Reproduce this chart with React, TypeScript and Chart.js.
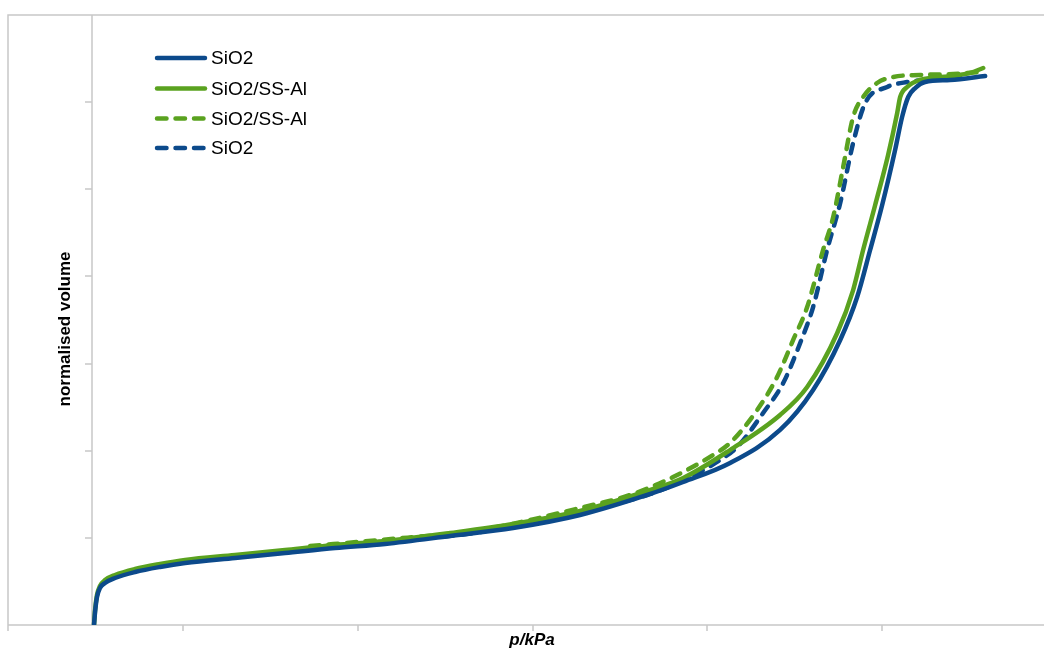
import React, { useEffect, useRef } from "react";
import { Chart, registerables } from "chart.js";

Chart.register(...registerables);

// x in axis units (tick every 1), y in axis units (tick every 1)
const sio2AdsX = [0.492, 0.498, 0.509, 0.526, 0.555, 0.612, 0.727, 0.870, 1.013, 1.299, 1.585, 1.871, 2.157, 2.529, 2.889, 3.272, 3.656, 3.862, 4.130, 4.416, 4.605, 4.760, 4.857, 4.931, 5.000, 5.074, 5.114, 5.149, 5.189, 5.246, 5.389, 5.589];
const sio2AdsY = [0, 0.149, 0.321, 0.425, 0.482, 0.539, 0.608, 0.666, 0.711, 0.769, 0.826, 0.884, 0.930, 1.021, 1.113, 1.262, 1.492, 1.641, 1.859, 2.238, 2.697, 3.271, 3.764, 4.303, 4.820, 5.451, 5.830, 6.059, 6.162, 6.231, 6.254, 6.300];

const alAdsX = [0.492, 0.498, 0.509, 0.526, 0.555, 0.612, 0.727, 0.870, 1.013, 1.299, 1.585, 1.871, 2.157, 2.529, 2.889, 3.272, 3.656, 3.862, 4.130, 4.416, 4.571, 4.743, 4.834, 4.891, 4.960, 5.034, 5.086, 5.103, 5.143, 5.217, 5.406, 5.503, 5.578];
const alAdsY = [0, 0.172, 0.344, 0.448, 0.516, 0.574, 0.643, 0.700, 0.746, 0.803, 0.861, 0.918, 0.964, 1.056, 1.159, 1.308, 1.538, 1.687, 2.008, 2.410, 2.731, 3.351, 3.844, 4.303, 4.820, 5.394, 5.876, 6.059, 6.174, 6.254, 6.300, 6.335, 6.392];

const alDesX = [1.728, 2.128, 2.700, 2.986, 3.272, 3.558, 3.804, 4.033, 4.130, 4.285, 4.399, 4.491, 4.571, 4.662, 4.720, 4.777, 4.834, 4.891, 4.971, 5.063, 5.217, 5.406, 5.561];
const alDesY = [0.907, 0.975, 1.090, 1.205, 1.343, 1.492, 1.698, 1.951, 2.089, 2.467, 2.846, 3.271, 3.649, 4.303, 4.682, 5.256, 5.830, 6.059, 6.220, 6.289, 6.312, 6.323, 6.346];

const sio2DesX = [1.756, 2.128, 2.700, 2.986, 3.272, 3.656, 3.844, 4.073, 4.171, 4.319, 4.434, 4.531, 4.605, 4.685, 4.760, 4.834, 4.903, 5.029, 5.143, 5.315, 5.446];
const sio2DesY = [0.884, 0.952, 1.067, 1.182, 1.297, 1.492, 1.641, 1.894, 2.043, 2.433, 2.777, 3.236, 3.649, 4.303, 4.843, 5.531, 5.990, 6.174, 6.231, 6.266, 6.277];

const seriesLabels = ["SiO2", "SiO2/SS-Al", "SiO2/SS-Al", "SiO2"];
const xTicks = [0, 1, 2, 3, 4, 5, 6];
const yTicks = [0, 1, 2, 3, 4, 5, 6, 7];
const xTitle = "p/kPa";
const yTitle = "normalised volume";
const Y_AXIS_AT = 0.48;

const BLUE = "#0c4a8b";
const GREEN = "#5aa21f";
const AXIS = "#c8c8c8";
const FONT = "'Liberation Sans', Arial, sans-serif";
const DASH = [9.5, 9];

const pts = (xs: number[], ys: number[]) => xs.map((x, i) => ({ x, y: ys[i] }));

const axesPlugin = {
  id: "axesPlugin",
  beforeDatasetsDraw(chart: any) {
    const ctx = chart.ctx;
    const xs = chart.scales.x;
    const ys = chart.scales.y;
    const x0 = Math.round(xs.getPixelForValue(0));
    const x1 = 1070;
    const yTop = Math.round(ys.getPixelForValue(7));
    const yBot = Math.round(ys.getPixelForValue(0));
    const yAx = Math.round(xs.getPixelForValue(Y_AXIS_AT));
    ctx.save();
    ctx.strokeStyle = AXIS;
    ctx.lineWidth = 1.5;
    ctx.beginPath();
    ctx.moveTo(x0, yBot);
    ctx.lineTo(x0, yTop);
    ctx.lineTo(x1, yTop);
    ctx.moveTo(x0, yBot);
    ctx.lineTo(x1, yBot);
    xTicks.forEach((t) => {
      const px = Math.round(xs.getPixelForValue(t));
      ctx.moveTo(px, yBot);
      ctx.lineTo(px, yBot + 6);
    });
    ctx.moveTo(yAx, yBot);
    ctx.lineTo(yAx, yTop);
    yTicks.forEach((t) => {
      if (t === 0) return;
      const py = Math.round(ys.getPixelForValue(t));
      ctx.moveTo(yAx - 7, py);
      ctx.lineTo(yAx, py);
    });
    ctx.stroke();
    ctx.restore();
  },
  afterDraw(chart: any) {
    const ctx = chart.ctx;
    ctx.save();
    ctx.fillStyle = "#000";
    ctx.textAlign = "center";
    ctx.textBaseline = "alphabetic";
    ctx.font = `italic bold 17px ${FONT}`;
    ctx.fillText(xTitle, 532, 645);
    ctx.save();
    ctx.translate(70, 329);
    ctx.rotate(-Math.PI / 2);
    ctx.font = `bold 17px ${FONT}`;
    ctx.fillText(yTitle, 0, 0);
    ctx.restore();
    const rows = [58, 88.5, 118.5, 148];
    chart.data.datasets.forEach((ds: any, i: number) => {
      const y = rows[i];
      ctx.beginPath();
      ctx.strokeStyle = ds.borderColor;
      ctx.lineWidth = 4.5;
      ctx.lineCap = "round";
      ctx.setLineDash(ds.borderDash || []);
      ctx.moveTo(157, y);
      ctx.lineTo(205, y);
      ctx.stroke();
      ctx.setLineDash([]);
      ctx.fillStyle = "#000";
      ctx.textAlign = "left";
      ctx.textBaseline = "middle";
      ctx.font = `19px ${FONT}`;
      ctx.fillText(ds.label, 211, y + 1);
    });
    ctx.restore();
  },
};

export default function App() {
  const ref = useRef<HTMLCanvasElement>(null);
  useEffect(() => {
    if (!ref.current) return;
    const mk = (label: string, data: any[], color: string, dashed: boolean) => ({
      label,
      data,
      borderColor: color,
      backgroundColor: color,
      borderWidth: 4.5,
      borderDash: dashed ? DASH : [],
      borderCapStyle: "round",
      borderJoinStyle: "round",
      pointRadius: 0,
      cubicInterpolationMode: "monotone",
      fill: false,
    });
    const chart = new Chart(ref.current, {
      type: "line",
      data: {
        datasets: [
          mk(seriesLabels[0], pts(sio2AdsX, sio2AdsY), BLUE, false),
          mk(seriesLabels[1], pts(alAdsX, alAdsY), GREEN, false),
          mk(seriesLabels[2], pts(alDesX, alDesY), GREEN, true),
          mk(seriesLabels[3], pts(sio2DesX, sio2DesY), BLUE, true),
        ] as any,
      },
      options: {
        animation: false,
        responsive: false,
        devicePixelRatio: 1,
        layout: { padding: { left: 8, top: 15, right: 13, bottom: 26 } },
        scales: {
          x: { type: "linear", min: 0, max: 6, display: false },
          y: { type: "linear", min: 0, max: 7, display: false },
        },
        plugins: { legend: { display: false }, tooltip: { enabled: false } },
      },
      plugins: [axesPlugin],
    });
    return () => chart.destroy();
  }, []);
  return (
    <div style={{ position: "fixed", left: 0, top: 0, width: 1044, height: 651, overflow: "hidden", background: "#fff" }}>
      <canvas ref={ref} width={1070} height={651} style={{ display: "block" }} />
    </div>
  );
}
